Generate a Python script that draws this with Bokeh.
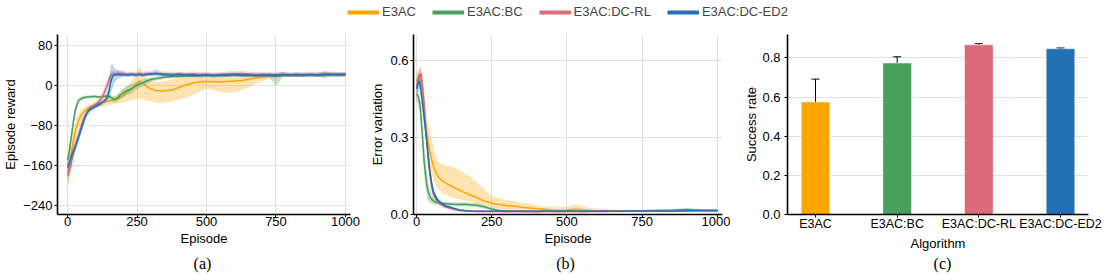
from bokeh.plotting import figure
from bokeh.layouts import column, row
from bokeh.models import (Range1d, FixedTicker, Legend, LegendItem, Label, Whisker, TeeHead,
                          ColumnDataSource, PrintfTickFormatter, CustomJSTickFormatter)
from bokeh.embed import file_html
from bokeh.resources import INLINE

# ---------------- data ----------------
names = ["E3AC", "E3AC:BC", "E3AC:DC-RL", "E3AC:DC-ED2"]
colors = ["#FFA500", "#47A05B", "#DD6A7B", "#2271B4"]
captions = ["(a)", "(b)", "(c)"]

ep_a = [0, 5, 10, 15, 20, 25, 30, 40, 50, 60, 70, 80, 90, 100, 110, 120, 130, 140, 150,
        155, 160, 165, 170, 180, 190, 200, 215, 230, 245, 260, 270, 285, 300, 320, 340,
        360, 380, 400, 425, 450, 475, 500, 525, 550, 575, 600, 625, 650, 675, 700, 725,
        750, 775, 800, 825, 850, 875, 900, 925, 950, 975, 1000]

rew_e3ac = [-178, -165, -148, -131, -115, -100, -88, -70, -59, -53, -48, -44, -42, -39,
            -37, -35, -34, -33, -32, -31, -31, -30, -29, -27, -25, -21, -15, -8, 0, 8, 4,
            -3, -8, -11, -12, -11, -9, -5, 0, 4, 6, 7, 7, 6, 7, 8, 9, 11, 14, 16, 17, 18,
            19, 19, 19, 20, 20, 20, 21, 20, 21, 21]
rew_e3ac_lo = [-205, -195, -175, -155, -138, -122, -108, -86, -71, -63, -57, -52, -49, -46,
               -44, -43, -42, -41, -40, -39, -39, -38, -38, -37, -36, -34, -32, -30, -29,
               -28, -28, -31, -33, -35, -36, -34, -32, -29, -26, -20, -13, -8, -10, -14,
               -16, -15, -11, -5, 2, 8, 12, 15, 16, 16, 17, 17, 18, 18, 18, 18, 18, 19]
rew_e3ac_hi = [-150, -135, -120, -108, -95, -82, -72, -57, -49, -45, -41, -38, -36, -33,
               -31, -29, -27, -26, -25, -24, -24, -23, -22, -19, -15, -9, -2, 8, 20, 38, 24,
               12, 8, 6, 7, 9, 12, 14, 16, 18, 19, 20, 21, 21, 21, 22, 22, 22, 22, 23, 22,
               22, 22, 22, 23, 23, 22, 23, 23, 23, 23, 23]

rew_bc = [-150, -138, -118, -98, -78, -60, -46, -31, -27, -25, -24, -24, -23, -23, -24,
          -24, -23, -22, -23, -24, -26, -28, -29, -26, -20, -16, -11, -8, -2, 2, 4, 8, 11,
          13, 15, 16, 17, 17, 18, 18, 19, 19, 19, 19, 19, 20, 19, 19, 19, 19, 19, 17, 19,
          20, 19, 19, 20, 19, 19, 20, 20, 20]
rew_bc_lo = [-162, -152, -132, -112, -92, -72, -56, -37, -31, -28, -27, -27, -26, -26,
             -27, -27, -26, -25, -27, -29, -32, -34, -35, -33, -28, -25, -20, -17, -10, -5,
             -3, 2, 6, 9, 11, 13, 14, 14, 15, 15, 16, 16, 16, 16, 16, 17, 16, 16, 16, 16,
             15, -2, 16, 17, 16, 16, 17, 16, 14, 17, 17, 17]
rew_bc_hi = [-140, -125, -104, -84, -65, -48, -37, -26, -23, -22, -21, -21, -20, -20, -21,
             -21, -20, -19, -19, -19, -20, -22, -23, -19, -12, -7, -2, 1, 6, 9, 11, 14, 16,
             17, 19, 19, 20, 20, 21, 21, 22, 22, 22, 22, 22, 23, 22, 22, 22, 22, 22, 21,
             22, 23, 22, 22, 23, 22, 22, 23, 23, 23]

rew_rl = [-182, -176, -165, -151, -140, -130, -119, -100, -80, -65, -55, -48, -44, -40,
          -35, -28, -18, -5, 12, 18, 21, 22, 22, 23, 23, 22, 21, 22, 21, 22, 21, 22, 22,
          23, 22, 22, 21, 22, 21, 22, 21, 21, 20, 21, 22, 22, 23, 22, 21, 21, 21, 20, 21,
          20, 20, 21, 20, 21, 21, 22, 21, 22]
rew_rl_lo = [-195, -190, -178, -163, -151, -140, -129, -108, -87, -71, -60, -53, -49, -45,
             -41, -36, -28, -16, 2, 10, 15, 17, 18, 19, 19, 18, 17, 18, 17, 18, 17, 18, 18,
             19, 18, 18, 17, 18, 17, 18, 17, 17, 16, 17, 18, 18, 19, 18, 17, 17, 17, 16,
             17, 16, 16, 17, 16, 17, 17, 18, 17, 18]
rew_rl_hi = [-168, -162, -152, -139, -129, -120, -109, -92, -73, -59, -50, -43, -39, -35,
             -29, -20, -8, 6, 22, 27, 28, 27, 27, 28, 29, 30, 26, 27, 26, 27, 26, 28, 27,
             32, 27, 27, 26, 27, 26, 27, 26, 26, 25, 26, 27, 28, 28, 27, 26, 26, 26, 25,
             26, 25, 25, 26, 25, 26, 26, 27, 26, 26]

rew_ed2 = [-165, -158, -150, -141, -133, -127, -120, -105, -87, -70, -56, -49, -46, -43,
           -40, -37, -33, -28, -12, 5, 14, 19, 20, 21, 20, 21, 20, 21, 20, 21, 20, 21, 22,
           23, 21, 20, 20, 21, 20, 20, 19, 20, 19, 20, 20, 21, 20, 20, 19, 20, 20, 20, 21,
           20, 21, 20, 21, 20, 22, 21, 21, 21]
rew_ed2_lo = [-175, -168, -160, -151, -143, -137, -130, -114, -96, -78, -63, -55, -51, -48,
              -45, -42, -38, -35, -28, -18, -10, 0, 5, 12, 14, 16, 16, 17, 16, 17, 16, 17,
              18, 19, 17, 16, 16, 17, 16, 16, 15, 16, 15, 16, 16, 17, 16, 16, 15, 16, 16,
              16, 17, 16, 17, 16, 17, 16, 17, 17, 17, 17]
rew_ed2_hi = [-155, -148, -140, -131, -123, -117, -110, -96, -78, -62, -49, -43, -41, -38,
              -35, -32, -28, -21, 8, 35, 45, 38, 33, 30, 27, 26, 24, 25, 24, 25, 24, 25, 26,
              27, 25, 24, 24, 25, 24, 24, 23, 24, 23, 24, 24, 25, 24, 24, 23, 24, 24, 24,
              26, 24, 25, 24, 25, 24, 28, 25, 25, 25]

ep_b = [0, 5, 10, 15, 20, 25, 30, 35, 40, 45, 50, 55, 60, 70, 80, 90, 100, 120, 140, 160,
        180, 200, 225, 250, 275, 300, 325, 350, 375, 400, 425, 450, 475, 500, 525, 550,
        575, 600, 650, 700, 750, 800, 850, 900, 950, 1000]

err_e3ac = [0.52, 0.53, 0.545, 0.52, 0.47, 0.41, 0.35, 0.31, 0.27, 0.24, 0.215, 0.195,
            0.175, 0.15, 0.138, 0.128, 0.12, 0.108, 0.097, 0.085, 0.076, 0.066, 0.053,
            0.044, 0.039, 0.035, 0.032, 0.028, 0.025, 0.022, 0.020, 0.018, 0.017, 0.018,
            0.020, 0.019, 0.016, 0.015, 0.014, 0.014, 0.014, 0.014, 0.015, 0.015, 0.015,
            0.016]
err_e3ac_lo = [0.48, 0.50, 0.51, 0.48, 0.42, 0.36, 0.30, 0.26, 0.22, 0.19, 0.16, 0.14,
               0.12, 0.10, 0.09, 0.08, 0.075, 0.065, 0.06, 0.055, 0.05, 0.042, 0.034,
               0.027, 0.022, 0.018, 0.016, 0.013, 0.012, 0.011, 0.010, 0.009, 0.009,
               0.009, 0.010, 0.010, 0.009, 0.009, 0.009, 0.010, 0.010, 0.010, 0.011,
               0.011, 0.012, 0.012]
err_e3ac_hi = [0.56, 0.56, 0.57, 0.56, 0.52, 0.46, 0.41, 0.37, 0.34, 0.32, 0.30, 0.27,
               0.24, 0.21, 0.20, 0.195, 0.19, 0.185, 0.175, 0.16, 0.145, 0.125, 0.098,
               0.072, 0.062, 0.056, 0.052, 0.046, 0.042, 0.036, 0.032, 0.030, 0.028,
               0.030, 0.038, 0.034, 0.026, 0.022, 0.019, 0.018, 0.018, 0.018, 0.019,
               0.019, 0.019, 0.020]

err_bc = [0.47, 0.46, 0.44, 0.38, 0.30, 0.21, 0.155, 0.11, 0.085, 0.068, 0.06, 0.055,
          0.05, 0.047, 0.044, 0.043, 0.042, 0.040, 0.039, 0.040, 0.038, 0.036, 0.030,
          0.021, 0.016, 0.014, 0.013, 0.012, 0.012, 0.012, 0.013, 0.013, 0.012, 0.013,
          0.013, 0.012, 0.013, 0.013, 0.013, 0.014, 0.015, 0.016, 0.017, 0.019, 0.017,
          0.016]
err_bc_lo = [0.44, 0.43, 0.41, 0.33, 0.25, 0.16, 0.10, 0.07, 0.05, 0.045, 0.042, 0.040,
             0.038, 0.037, 0.036, 0.035, 0.034, 0.032, 0.031, 0.032, 0.030, 0.028, 0.023,
             0.015, 0.011, 0.010, 0.009, 0.009, 0.009, 0.009, 0.010, 0.010, 0.009, 0.010,
             0.010, 0.009, 0.010, 0.010, 0.010, 0.011, 0.012, 0.012, 0.013, 0.014, 0.013,
             0.012]
err_bc_hi = [0.50, 0.49, 0.47, 0.42, 0.35, 0.27, 0.22, 0.16, 0.12, 0.095, 0.08, 0.07,
             0.065, 0.058, 0.053, 0.051, 0.050, 0.048, 0.047, 0.048, 0.046, 0.044, 0.037,
             0.027, 0.021, 0.018, 0.017, 0.015, 0.015, 0.015, 0.016, 0.016, 0.015, 0.016,
             0.016, 0.015, 0.016, 0.016, 0.016, 0.017, 0.018, 0.020, 0.022, 0.025, 0.021,
             0.020]

err_rl = [0.50, 0.52, 0.54, 0.55, 0.50, 0.44, 0.35, 0.27, 0.20, 0.15, 0.11, 0.085, 0.07,
          0.05, 0.04, 0.033, 0.028, 0.021, 0.016, 0.014, 0.013, 0.012, 0.012, 0.012,
          0.012, 0.011, 0.012, 0.012, 0.012, 0.011, 0.012, 0.012, 0.012, 0.012, 0.012,
          0.012, 0.012, 0.012, 0.013, 0.013, 0.014, 0.014, 0.015, 0.016, 0.017, 0.017]
err_rl_lo = [0.47, 0.49, 0.50, 0.51, 0.46, 0.40, 0.31, 0.23, 0.17, 0.12, 0.09, 0.07,
             0.056, 0.04, 0.032, 0.027, 0.023, 0.017, 0.013, 0.011, 0.010, 0.009, 0.009,
             0.009, 0.009, 0.008, 0.009, 0.009, 0.009, 0.008, 0.009, 0.009, 0.009, 0.009,
             0.009, 0.009, 0.009, 0.009, 0.010, 0.010, 0.011, 0.011, 0.012, 0.013, 0.014,
             0.014]
err_rl_hi = [0.53, 0.55, 0.57, 0.58, 0.54, 0.48, 0.39, 0.31, 0.24, 0.18, 0.13, 0.10,
             0.082, 0.06, 0.048, 0.040, 0.034, 0.025, 0.020, 0.017, 0.016, 0.015, 0.015,
             0.015, 0.015, 0.014, 0.015, 0.015, 0.015, 0.014, 0.015, 0.015, 0.015, 0.015,
             0.015, 0.015, 0.015, 0.015, 0.016, 0.016, 0.017, 0.017, 0.018, 0.019, 0.020,
             0.020]

err_ed2 = [0.49, 0.51, 0.52, 0.48, 0.43, 0.38, 0.33, 0.28, 0.215, 0.165, 0.125, 0.095,
           0.078, 0.057, 0.046, 0.038, 0.032, 0.025, 0.019, 0.016, 0.014, 0.013, 0.013,
           0.013, 0.013, 0.013, 0.013, 0.013, 0.013, 0.013, 0.013, 0.013, 0.013, 0.013,
           0.013, 0.013, 0.013, 0.013, 0.013, 0.013, 0.014, 0.014, 0.014, 0.015, 0.015,
           0.015]
err_ed2_lo = [0.46, 0.48, 0.49, 0.45, 0.40, 0.35, 0.30, 0.25, 0.19, 0.14, 0.105, 0.08,
              0.066, 0.048, 0.039, 0.032, 0.027, 0.021, 0.016, 0.013, 0.012, 0.011, 0.011,
              0.011, 0.011, 0.011, 0.011, 0.011, 0.011, 0.011, 0.011, 0.011, 0.011, 0.011,
              0.011, 0.011, 0.011, 0.011, 0.011, 0.011, 0.012, 0.012, 0.012, 0.013, 0.013,
              0.013]
err_ed2_hi = [0.52, 0.54, 0.55, 0.51, 0.46, 0.41, 0.36, 0.31, 0.24, 0.19, 0.145, 0.11,
              0.09, 0.066, 0.053, 0.044, 0.037, 0.029, 0.022, 0.019, 0.016, 0.015, 0.015,
              0.015, 0.015, 0.015, 0.015, 0.015, 0.015, 0.015, 0.015, 0.015, 0.015, 0.015,
              0.015, 0.015, 0.015, 0.015, 0.015, 0.015, 0.016, 0.016, 0.016, 0.017, 0.017,
              0.017]

success_mean = [0.575, 0.774, 0.867, 0.847]
success_err = [0.117, 0.032, 0.006, 0.004]

rew_series = [(rew_e3ac, rew_e3ac_lo, rew_e3ac_hi), (rew_bc, rew_bc_lo, rew_bc_hi),
              (rew_rl, rew_rl_lo, rew_rl_hi), (rew_ed2, rew_ed2_lo, rew_ed2_hi)]
err_series = [(err_e3ac, err_e3ac_lo, err_e3ac_hi), (err_bc, err_bc_lo, err_bc_hi),
              (err_rl, err_rl_lo, err_rl_hi), (err_ed2, err_ed2_lo, err_ed2_hi)]

FONT = "Liberation Sans"
SERIF = "Liberation Serif"
GRID = "#E2E2E2"


def style(p, grid_x=True):
    p.outline_line_color = None
    p.background_fill_color = "white"
    for ax in (p.xaxis, p.yaxis):
        ax.axis_line_color = "black"
        ax.axis_line_width = 1.6
        ax.major_tick_line_color = "black"
        ax.major_tick_out = 3
        ax.major_tick_in = 0
        ax.minor_tick_line_color = None
        ax.major_label_text_font = FONT
        ax.major_label_text_font_size = "13px"
        ax.major_label_text_color = "black"
        ax.axis_label_text_font = FONT
        ax.axis_label_text_font_size = "13px"
        ax.axis_label_text_font_style = "normal"
        ax.axis_label_text_color = "black"
    p.xaxis.major_label_standoff = -1
    p.xaxis.axis_label_standoff = 2
    p.yaxis.major_label_standoff = 2
    p.yaxis.axis_label_standoff = 2
    p.ygrid.grid_line_color = GRID
    p.ygrid.grid_line_width = 1
    if grid_x:
        p.xgrid.grid_line_color = GRID
        p.xgrid.grid_line_width = 1
    else:
        p.xgrid.grid_line_color = None


def caption_fig(width, cx, txt):
    f = figure(width=width, height=21, output_backend="svg", toolbar_location=None,
               x_range=Range1d(0, 1), y_range=Range1d(0, 1),
               x_axis_location=None, y_axis_location=None,
               min_border_left=0, min_border_right=0, min_border_top=0, min_border_bottom=0)
    f.outline_line_color = None
    f.xgrid.grid_line_color = None
    f.ygrid.grid_line_color = None
    f.add_layout(Label(x=cx, y=11, x_units="screen", y_units="screen", text=txt,
                       text_align="center", text_baseline="middle", text_font=SERIF,
                       text_font_size="16px", text_color="black"))
    return f


H = 225
BB = 39
# ---------------- (a) ----------------
pa = figure(width=360, height=H, output_backend="svg", toolbar_location=None,
            x_range=Range1d(-36, 1018), y_range=Range1d(-259, 101),
            min_border_left=54, min_border_right=10, min_border_top=6, min_border_bottom=BB)
style(pa)
pa.xaxis.ticker = FixedTicker(ticks=[0, 250, 500, 750, 1000])
pa.yaxis.ticker = FixedTicker(ticks=[-240, -160, -80, 0, 80])
pa.yaxis.formatter = CustomJSTickFormatter(code="return tick.toFixed(0).replace('-', '\u2212');")
pa.xaxis.axis_label = "Episode"
pa.yaxis.axis_label = "Episode reward"
for (m, lo, hi), c in zip(rew_series, colors):
    pa.varea(x=ep_a, y1=lo, y2=hi, fill_color=c, fill_alpha=0.3)
    pa.line(ep_a, m, line_color=c, line_width=1.5)

# ---------------- (b) ----------------
pb = figure(width=370, height=H, output_backend="svg", toolbar_location=None,
            x_range=Range1d(-10, 1017), y_range=Range1d(0, 0.701),
            min_border_left=53, min_border_right=8, min_border_top=6, min_border_bottom=BB)
style(pb)
pb.xaxis.ticker = FixedTicker(ticks=[0, 250, 500, 750, 1000])
pb.yaxis.ticker = FixedTicker(ticks=[0.0, 0.3, 0.6])
pb.yaxis.formatter = PrintfTickFormatter(format="%.1f")
pb.xaxis.axis_label = "Episode"
pb.yaxis.axis_label = "Error variation"
for (m, lo, hi), c in zip(err_series, colors):
    pb.varea(x=ep_b, y1=lo, y2=hi, fill_color=c, fill_alpha=0.3)
    pb.line(ep_b, m, line_color=c, line_width=1.5)

# ---------------- (c) ----------------
xs = list(range(len(names)))
pc = figure(width=385, height=H, output_backend="svg", toolbar_location=None,
            x_range=Range1d(-0.343, 3.343), y_range=Range1d(0, 0.92),
            min_border_left=57, min_border_right=27, min_border_top=6, min_border_bottom=BB)
style(pc, grid_x=False)
pc.yaxis.major_label_standoff = 4
pc.yaxis.axis_label_standoff = 0
pc.xaxis.major_label_text_font_size = "12.5px"
pc.xaxis.ticker = FixedTicker(ticks=xs)
pc.xaxis.major_label_overrides = {i: n for i, n in zip(xs, names)}
pc.yaxis.ticker = FixedTicker(ticks=[0.0, 0.2, 0.4, 0.6, 0.8])
pc.yaxis.formatter = PrintfTickFormatter(format="%.1f")
pc.xaxis.axis_label = "Algorithm"
pc.yaxis.axis_label = "Success rate"
src = ColumnDataSource(dict(x=xs, top=success_mean, color=colors,
                            upper=[m + e for m, e in zip(success_mean, success_err)],
                            lower=[m - e for m, e in zip(success_mean, success_err)]))
pc.vbar(x="x", top="top", width=0.35, source=src, fill_color="color",
        line_color="white", line_alpha=0.45, line_width=1)
wh = Whisker(base="x", upper="upper", lower="lower", source=src, line_color="black",
             line_width=1,
             upper_head=TeeHead(size=8, line_color="black", line_width=1),
             lower_head=TeeHead(size=8, line_color="black", line_width=1))
pc.add_layout(wh)

# ---------------- captions ----------------
ca = caption_fig(360, 202, captions[0])
cb = caption_fig(370, 205, captions[1])
cc = caption_fig(385, 212, captions[2])

# ---------------- legend ----------------
pl = figure(width=1115, height=28, output_backend="svg", toolbar_location=None,
            x_range=Range1d(0, 1), y_range=Range1d(0, 1),
            x_axis_location=None, y_axis_location=None,
            min_border_left=347, min_border_right=0, min_border_top=4, min_border_bottom=0)
pl.outline_line_color = None
pl.xgrid.grid_line_color = None
pl.ygrid.grid_line_color = None
items = []
for n, c in zip(names, colors):
    r = pl.line(x=[0.5], y=[float("nan")], line_color=c, line_width=4)
    items.append(LegendItem(label=n, renderers=[r]))
leg = Legend(items=items, orientation="horizontal", location="top_left",
             margin=0, padding=0, spacing=16, glyph_width=32, glyph_height=14,
             label_height=14, label_standoff=3, label_text_font=FONT,
             label_text_font_size="13px", border_line_alpha=0,
             background_fill_alpha=0)
pl.add_layout(leg)

layout = column(pl, row(pa, pb, pc), row(ca, cb, cc))
open("out.html", "w").write(file_html(layout, INLINE))
